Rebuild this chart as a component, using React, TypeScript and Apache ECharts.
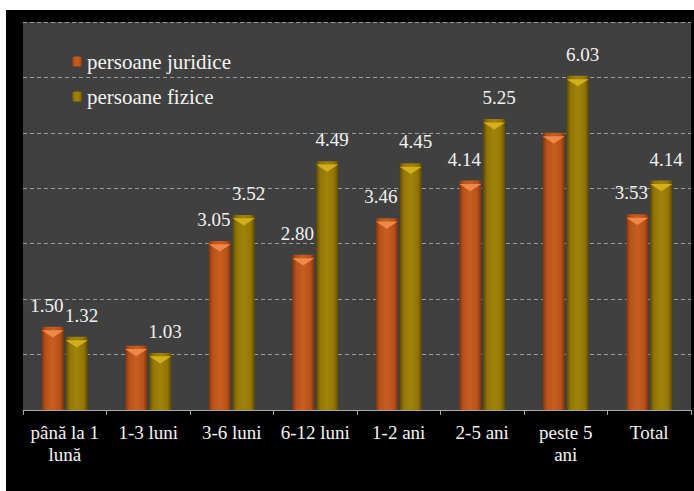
import React, { useEffect, useRef } from "react";
import * as echarts from "echarts";

const categories = ["până la 1\nlună", "1-3 luni", "3-6 luni", "6-12 luni", "1-2 ani", "2-5 ani", "peste 5\nani", "Total"];
const juridice = [1.5, 1.16, 3.05, 2.8, 3.46, 4.14, 5.0, 3.53];
const fizice = [1.32, 1.03, 3.52, 4.49, 4.45, 5.25, 6.03, 4.14];
const hiddenJuridiceLabels = [1, 6];
const seriesNames = ["persoane juridice", "persoane fizice"];
const yMin = 0;
const yMax = 7;
const yInterval = 1;

const FONT = "Liberation Serif";

function grad(dark: string, mid: string, light: string) {
  return new echarts.graphic.LinearGradient(0, 0, 1, 0, [
    { offset: 0, color: dark },
    { offset: 0.18, color: mid },
    { offset: 0.5, color: light },
    { offset: 0.82, color: mid },
    { offset: 1, color: dark },
  ]);
}

export default function App() {
  const ref = useRef<HTMLDivElement>(null);
  useEffect(() => {
    if (!ref.current) return;
    const chart = echarts.init(ref.current, undefined, { renderer: "svg" });
    const orange = grad("#7e3310", "#b8521a", "#c85e20");
    const olive = grad("#5e4a02", "#927506", "#a2840a");
    const labelStyle = {
      show: true,
      position: "top" as const,
      color: "#f2f2f2",
      fontFamily: FONT,
      fontSize: 19,
      formatter: (p: any) => Number(p.value).toFixed(2),
    };
    const chevron = "path://M0,0 L22,0 L11,7 Z";
    chart.setOption({
      animation: false,
      backgroundColor: "#000000",
      textStyle: { fontFamily: FONT },
      grid: {
        left: 17,
        right: 3,
        top: 12,
        bottom: 81,
        show: true,
        backgroundColor: "#404040",
        borderWidth: 0,
        containLabel: false,
      },
      legend: {
        data: seriesNames,
        orient: "vertical",
        left: 66,
        top: 41,
        padding: 0,
        itemWidth: 10,
        itemHeight: 10,
        itemGap: 14,
        textStyle: { color: "#f4f4f4", fontFamily: FONT, fontSize: 21 },
      },
      xAxis: {
        type: "category",
        data: categories,
        axisLine: { lineStyle: { color: "#a8a8a8", width: 1 } },
        axisTick: { show: true, length: 5, lineStyle: { color: "#a8a8a8" } },
        axisLabel: {
          color: "#f4f4f4",
          fontFamily: FONT,
          fontSize: 19,
          lineHeight: 22,
          margin: 11,
          interval: 0,
        },
      },
      yAxis: {
        type: "value",
        min: yMin,
        max: yMax,
        interval: yInterval,
        axisLine: { show: false },
        axisTick: { show: false },
        axisLabel: { show: false },
        splitLine: { show: true, lineStyle: { color: "#9c9c9c", type: [4, 3], width: 1 } },
      },
      series: [
        {
          name: seriesNames[0],
          type: "bar",
          barWidth: 22,
          barGap: "9%",
          itemStyle: { color: orange },
          label: { ...labelStyle, offset: [-6, -7] },
          data: juridice.map((v, i) =>
            hiddenJuridiceLabels.includes(i) ? { value: v, label: { show: false } } : v
          ),
          z: 2,
        },
        {
          name: seriesNames[1],
          type: "bar",
          barWidth: 22,
          barGap: "9%",
          itemStyle: { color: olive },
          label: { ...labelStyle, offset: [5, -7] },
          data: fizice,
          z: 2,
        },
        {
          name: "top-j",
          type: "pictorialBar",
          symbol: chevron,
          symbolSize: [22, 7],
          symbolPosition: "end",
          symbolOffset: [0, "50%"],
          barWidth: 22,
          barGap: "9%",
          itemStyle: { color: "#f0884a" },
          data: juridice,
          z: 3,
          silent: true,
        },
        {
          name: "top-f",
          type: "pictorialBar",
          symbol: chevron,
          symbolSize: [22, 7],
          symbolPosition: "end",
          symbolOffset: [0, "50%"],
          barWidth: 22,
          barGap: "9%",
          itemStyle: { color: "#d2b01c" },
          data: fizice,
          z: 3,
          silent: true,
        },
      ],
    });
    return () => chart.dispose();
  }, []);
  return (
    <div style={{ position: "absolute", left: 0, top: 0, width: 694, height: 491, background: "#ffffff" }}>
      <div
        ref={ref}
        style={{ position: "absolute", left: 6, top: 10, width: 688, height: 481, background: "#000000" }}
      />
    </div>
  );
}
